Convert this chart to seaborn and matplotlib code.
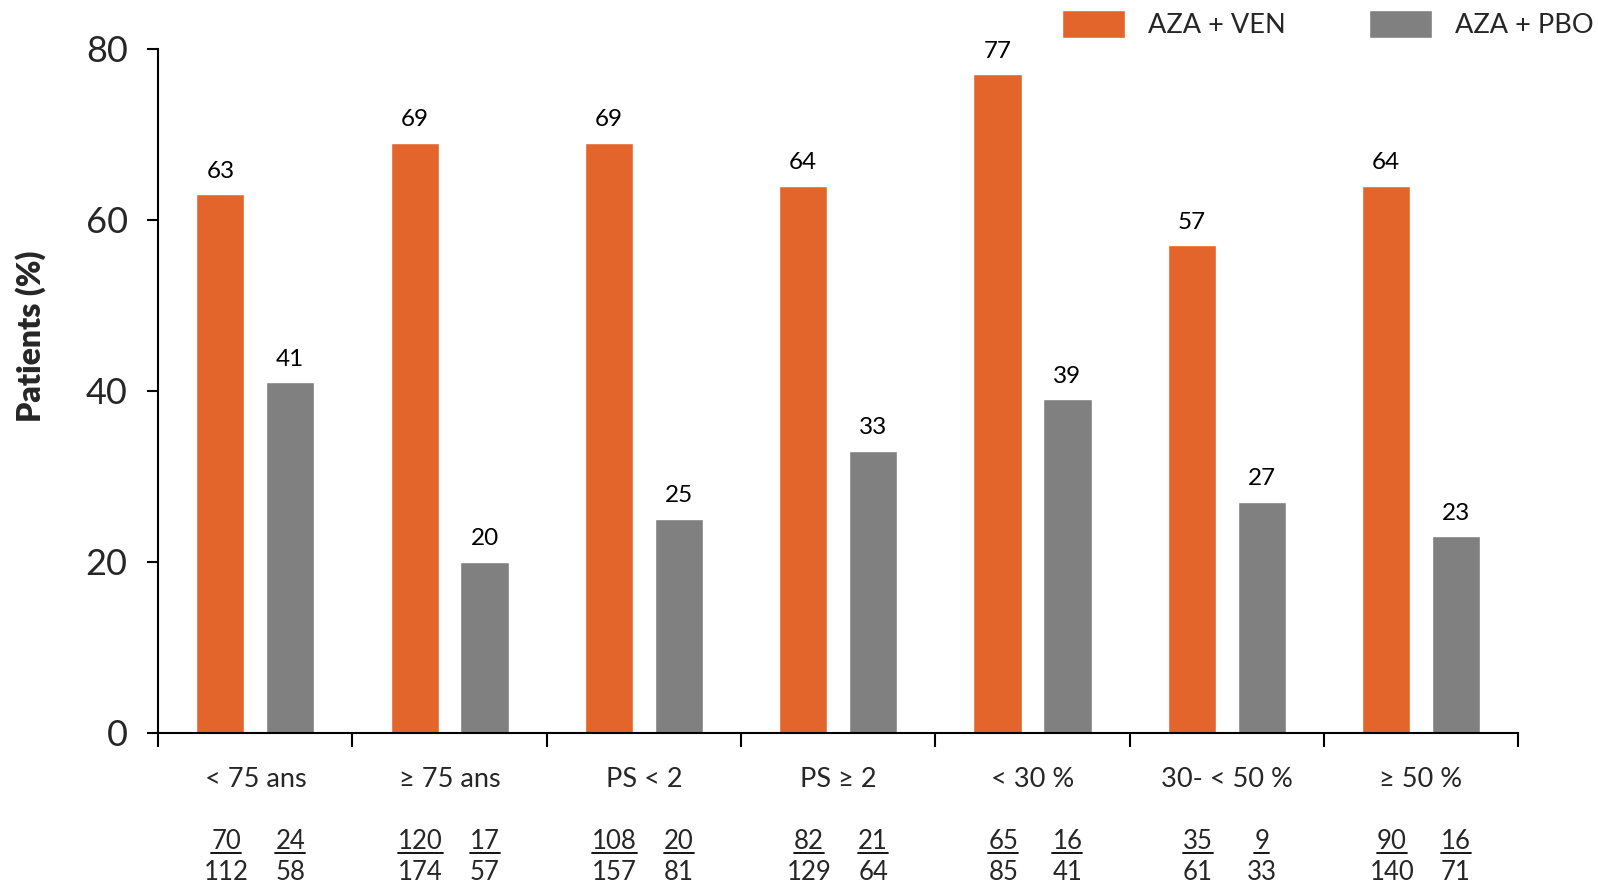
import matplotlib
matplotlib.use("Agg")
import matplotlib.pyplot as plt
import seaborn as sns
import pandas as pd
from matplotlib.lines import Line2D

categories = ["< 75 ans", "≥ 75 ans", "PS < 2", "PS ≥ 2", "< 30 %", "30- < 50 %", "≥ 50 %"]
series_names = ["AZA + VEN", "AZA + PBO"]
ven_values = [63, 69, 69, 64, 77, 57, 64]
pbo_values = [41, 20, 25, 33, 39, 27, 23]
ven_num = [70, 120, 108, 82, 65, 35, 90]
ven_den = [112, 174, 157, 129, 85, 61, 140]
pbo_num = [24, 17, 20, 21, 16, 9, 16]
pbo_den = [58, 57, 81, 64, 41, 33, 71]
y_ticks = [0, 20, 40, 60, 80]

colors = ["#E3652B", "#808080"]

sns.set_theme(style="white")
plt.rcParams["font.family"] = ["Lato", "DejaVu Sans"]

df = pd.DataFrame({
    "cat": categories * 2,
    "val": ven_values + pbo_values,
    "grp": [series_names[0]] * len(categories) + [series_names[1]] * len(categories),
})

fig = plt.figure(figsize=(15.98, 8.86), dpi=100)
ax = fig.add_axes([0.099, 0.173, 0.851, 0.772])

sns.barplot(data=df, x="cat", y="val", hue="grp", palette=colors, width=0.72, gap=0.31,
            saturation=1, ax=ax, legend=True)

for cont in ax.containers:
    ax.bar_label(cont, fmt="%d", padding=9, fontsize=17.5, color="black")

ax.set_xlim(-0.5, len(categories) - 0.5)
ax.set_ylim(0, 80)
ax.set_yticks(y_ticks)
ax.set_yticklabels([str(t) for t in y_ticks], fontsize=26)
ax.tick_params(axis="y", direction="out", length=8, width=1.5, color="black", pad=14, left=True)

ax.set_xticks([i - 0.5 for i in range(len(categories) + 1)])
ax.set_xticklabels([])
ax.tick_params(axis="x", which="major", direction="out", length=10, width=1.5, color="black", bottom=True)
ax.set_xticks(range(len(categories)), minor=True)
ax.set_xticklabels(categories, minor=True, fontsize=19.5)
ax.tick_params(axis="x", which="minor", length=0, pad=25)

for s in ["top", "right"]:
    ax.spines[s].set_visible(False)
for s in ["left", "bottom"]:
    ax.spines[s].set_color("black")
    ax.spines[s].set_linewidth(1.5)

ax.set_xlabel("")
ax.set_ylabel("")
fig.text(0.019, 0.62, "Patients (%)", rotation=90, ha="center", va="center",
         fontsize=23, fontweight="heavy")

# fraction labels at bar centers
nums = []
ven_x = [p.get_x() + p.get_width() / 2 for p in ax.containers[0]]
pbo_x = [p.get_x() + p.get_width() / 2 for p in ax.containers[1]]
for xs, numl, denl, dx in [(ven_x, ven_num, ven_den, 0.03), (pbo_x, pbo_num, pbo_den, 0.0)]:
    for x, n, d in zip(xs, numl, denl):
        t = ax.annotate(str(n), xy=(x + dx, 0), xycoords=("data", "axes fraction"),
                        xytext=(0, -78), textcoords="offset points",
                        ha="center", va="center", fontsize=18.5, annotation_clip=False)
        nums.append(t)
        ax.annotate(str(d), xy=(x + dx, 0), xycoords=("data", "axes fraction"),
                    xytext=(0, -101), textcoords="offset points",
                    ha="center", va="center", fontsize=18.5, annotation_clip=False)

leg = ax.get_legend()
handles = leg.legend_handles
leg.remove()
fig.legend(handles, series_names, loc="center right", bbox_to_anchor=(0.997, 0.973),
           ncol=2, frameon=False, fontsize=19.5, handlelength=2.3, handleheight=1.2,
           handletextpad=0.85, columnspacing=3.1, borderpad=0, borderaxespad=0)

fig.canvas.draw()
renderer = fig.canvas.get_renderer()
inv = fig.transFigure.inverted()
for t in nums:
    bb = t.get_window_extent(renderer)
    y = bb.y0 + 1
    (x0, yy), (x1, _) = inv.transform([(bb.x0, y), (bb.x1, y)])
    fig.add_artist(Line2D([x0, x1], [yy, yy], transform=fig.transFigure, color="black", lw=1.3))

fig.savefig("out.png", dpi=100)
